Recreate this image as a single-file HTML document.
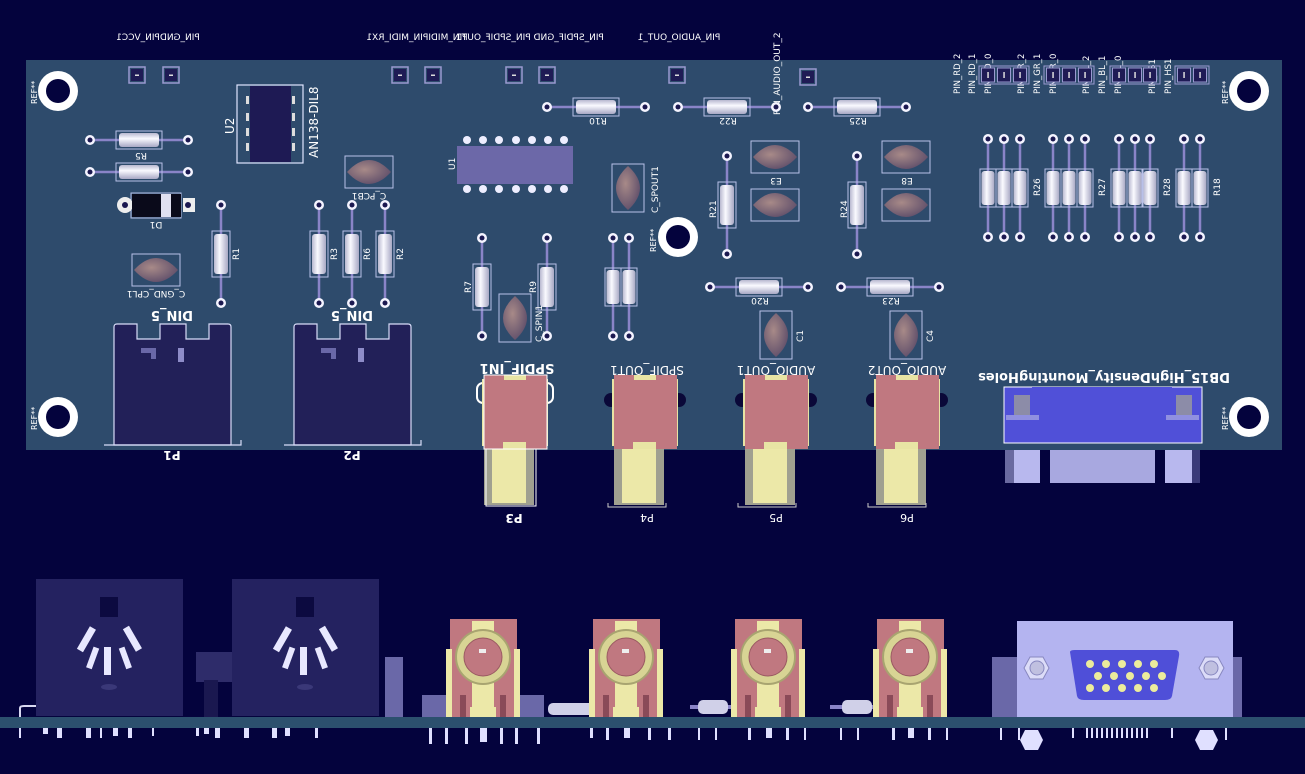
<!DOCTYPE html>
<html><head><meta charset="utf-8"><style>
html,body{margin:0;padding:0;background:#04033d;}
svg{display:block}
text{font-family:"DejaVu Sans","Liberation Sans",sans-serif;fill:#fff;}
</style></head><body>
<svg width="1305" height="774" viewBox="0 0 1305 774" xmlns="http://www.w3.org/2000/svg">
<defs>
 <linearGradient id="rb" x1="0" y1="0" x2="0" y2="1"><stop offset="0" stop-color="#b8b8d0"/><stop offset=".4" stop-color="#fafaff"/><stop offset="1" stop-color="#a8a8c4"/></linearGradient>
 <linearGradient id="rbv" x1="0" y1="0" x2="1" y2="0"><stop offset="0" stop-color="#b8b8d0"/><stop offset=".4" stop-color="#fafaff"/><stop offset="1" stop-color="#a8a8c4"/></linearGradient>
 <radialGradient id="cap" cx=".4" cy=".4" r=".7"><stop offset="0" stop-color="#a88a88"/><stop offset="1" stop-color="#5a4a68"/></radialGradient>
 <g id="pad"><circle r="5" fill="#f4f4ff"/><circle r="2.5" fill="#1b1850"/></g>
 <g id="rh"><line x1="-49" y1="0" x2="49" y2="0" stroke="#8a84c8" stroke-width="2.5"/><rect x="-23" y="-9" width="46" height="18" fill="none" stroke="#b8c0e8" stroke-width="1"/><rect x="-20" y="-7" width="40" height="14" rx="3" fill="url(#rb)"/><use href="#pad" x="-49"/><use href="#pad" x="49"/></g>
 <g id="rv"><line y1="-49" x1="0" y2="49" x2="0" stroke="#8a84c8" stroke-width="2.5"/><rect y="-23" x="-9" height="46" width="18" fill="none" stroke="#b8c0e8" stroke-width="1"/><rect y="-20" x="-7" height="40" width="14" rx="3" fill="url(#rbv)"/><use href="#pad" y="-49"/><use href="#pad" y="49"/></g>
 <g id="rvs"><line y1="-49" x1="0" y2="49" x2="0" stroke="#8a84c8" stroke-width="2.5"/><rect y="-19" x="-8" height="38" width="16" fill="none" stroke="#b8c0e8" stroke-width="1"/><rect y="-17" x="-6.5" height="34" width="13" rx="3" fill="url(#rbv)"/><use href="#pad" y="-49"/><use href="#pad" y="49"/></g>
 <g id="ch"><rect x="-24" y="-16" width="48" height="32" fill="none" stroke="#b8c0e8"/><path d="M-22 0 Q0 -24 22 0 Q0 24 -22 0Z" fill="url(#cap)"/></g>
 <g id="cv"><rect y="-24" x="-16" height="48" width="32" fill="none" stroke="#b8c0e8"/><path d="M0 -22 Q-24 0 0 22 Q24 0 0 -22Z" fill="url(#cap)"/></g>
 <g id="hole"><circle r="20" fill="#fff"/><circle r="12" fill="#04033d"/></g>
 <g id="hdr"><rect x="-8" y="-8" width="16" height="16" fill="none" stroke="#9a9ad0" stroke-width="1.5"/><rect x="-6" y="-6" width="12" height="12" fill="#1f1b55"/><rect x="-2" y="-0.5" width="4" height="1.5" fill="#ddd"/></g>
 <g id="hdr2"><rect x="-6.5" y="-7" width="13" height="14" fill="#1f1b55" stroke="#9a9ad0"/><rect x="-0.7" y="-3" width="1.5" height="6" fill="#ddd"/></g>
 <g id="din"><path d="M0 121 V3 Q0 0 3 0 H23 V15 H46 V0 H72 V15 H95 V0 H114 Q117 0 117 3 V121 Z" fill="#222058" stroke="#d8dcf8" stroke-width="1.2"/><path d="M-10 121 H127 V116" fill="none" stroke="#d8dcf8" stroke-width="1.2"/><path d="M27 24 H42 V35 H37 V29 H27Z" fill="#6a68a8"/><rect x="64" y="24" width="6" height="14" fill="#8e8cc8"/></g>
 <g id="jack"><rect x="0" y="73" width="50" height="57" fill="#a0a090"/><rect x="8" y="73" width="34" height="55" fill="#ece8a8"/><rect x="-2" y="4" width="66" height="67" fill="#e8e4a4"/><rect x="0" y="0" width="63" height="74" fill="#c07880"/><rect x="20" y="0" width="22" height="5" fill="#e8e4a4"/><path d="M19 74 V67 H42 V74Z" fill="#e8e4a4"/></g>
 <g id="bjack"><rect x="0" y="0" width="67" height="98" fill="#c07880"/><rect x="22" y="2" width="22" height="96" fill="#ece8a8"/><rect x="-4" y="30" width="6" height="68" fill="#ece8a8"/><rect x="64" y="30" width="6" height="68" fill="#ece8a8"/><circle cx="33" cy="38" r="27" fill="#d8d494" stroke="#a8a470" stroke-width="2"/><circle cx="33" cy="38" r="19" fill="#c07880" stroke="#9a5a62"/><rect x="29" y="30" width="7" height="4" fill="#eee"/><rect x="10" y="76" width="6" height="22" fill="#8a4a58"/><rect x="50" y="76" width="6" height="22" fill="#8a4a58"/><rect x="20" y="88" width="26" height="10" fill="#ece8a8"/></g>
 <g id="bdin"><rect x="0" y="0" width="147" height="137" fill="#242260"/><rect x="64" y="18" width="18" height="20" fill="#0c0a40"/><g fill="#e8e8ff"><rect x="68" y="68" width="7" height="28"/><rect x="-3" y="-13" width="7" height="26" transform="translate(50,60) rotate(30)"/><rect x="-3" y="-13" width="7" height="26" transform="translate(96,60) rotate(-30)"/><rect x="-3" y="-10" width="6" height="22" transform="translate(57,78) rotate(20)"/><rect x="-3" y="-10" width="6" height="22" transform="translate(89,78) rotate(-20)"/></g><ellipse cx="73" cy="108" rx="8" ry="3" fill="#3a3878"/></g>
</defs>

<!-- board -->
<rect x="26" y="60" width="1256" height="390" fill="#2e4b6c"/>

<!-- top labels -->
<text font-size="9" text-anchor="middle" transform="translate(158,40) scale(-1,1)">PIN_GNDPIN_VCC1</text>
<text font-size="9" text-anchor="middle" transform="translate(417,40) scale(-1,1)">PIN_MIDIPIN_MIDI_RX1</text>
<text font-size="9" text-anchor="middle" transform="translate(530,40) scale(-1,1)">PIN_SPDIF_GND PIN_SPDIF_OUT1</text>
<text font-size="9" text-anchor="middle" transform="translate(679,40) scale(-1,1)">PIN_AUDIO_OUT_1</text>
<text font-size="9" transform="translate(780,115) rotate(-90)">PIN_AUDIO_OUT_2</text>
<g font-size="8.5">
<text transform="translate(960,94) rotate(-90)">PIN_RD_2</text>
<text transform="translate(975,94) rotate(-90)">PIN_RD_1</text>
<text transform="translate(991,94) rotate(-90)">PIN_RD_0</text>
<text transform="translate(1024,94) rotate(-90)">PIN_GR_2</text>
<text transform="translate(1040,94) rotate(-90)">PIN_GR_1</text>
<text transform="translate(1056,94) rotate(-90)">PIN_GR_0</text>
<text transform="translate(1089,94) rotate(-90)">PIN_BL_2</text>
<text transform="translate(1105,94) rotate(-90)">PIN_BL_1</text>
<text transform="translate(1121,94) rotate(-90)">PIN_BL_0</text>
<text transform="translate(1155,94) rotate(-90)">PIN_VS1</text>
<text transform="translate(1171,94) rotate(-90)">PIN_HS1</text>
</g>
<g font-size="8">
<text transform="translate(37,104) rotate(-90)">REF**</text>
<text transform="translate(37,430) rotate(-90)">REF**</text>
<text transform="translate(1228,104) rotate(-90)">REF**</text>
<text transform="translate(1228,430) rotate(-90)">REF**</text>
<text transform="translate(656,252) rotate(-90)">REF**</text>
</g>

<!-- holes -->
<use href="#hole" x="58" y="91"/><use href="#hole" x="1249" y="91"/><use href="#hole" x="58" y="417"/><use href="#hole" x="1249" y="417"/><use href="#hole" x="678" y="237"/>

<!-- headers -->
<use href="#hdr" x="137" y="75"/><use href="#hdr" x="171" y="75"/><use href="#hdr" x="400" y="75"/><use href="#hdr" x="433" y="75"/><use href="#hdr" x="514" y="75"/><use href="#hdr" x="547" y="75"/><use href="#hdr" x="677" y="75"/><use href="#hdr" x="808" y="77"/>
<g><rect x="979" y="66" width="50" height="18" fill="none" stroke="#9a9ad0"/><rect x="1044" y="66" width="50" height="18" fill="none" stroke="#9a9ad0"/><rect x="1110" y="66" width="50" height="18" fill="none" stroke="#9a9ad0"/><rect x="1175" y="66" width="34" height="18" fill="none" stroke="#9a9ad0"/></g>
<use href="#hdr2" x="988" y="75"/><use href="#hdr2" x="1004" y="75"/><use href="#hdr2" x="1020" y="75"/>
<use href="#hdr2" x="1053" y="75"/><use href="#hdr2" x="1069" y="75"/><use href="#hdr2" x="1085" y="75"/>
<use href="#hdr2" x="1119" y="75"/><use href="#hdr2" x="1135" y="75"/><use href="#hdr2" x="1150" y="75"/>
<use href="#hdr2" x="1184" y="75"/><use href="#hdr2" x="1200" y="75"/>

<!-- U2 -->
<rect x="237" y="85" width="66" height="78" fill="none" stroke="#e0e4ff" stroke-width="1.2"/>
<rect x="250" y="86" width="41" height="76" fill="#1e1a54"/>
<g fill="#ddd"><rect x="246" y="96" width="3" height="8"/><rect x="246" y="113" width="3" height="8"/><rect x="246" y="128" width="3" height="8"/><rect x="246" y="143" width="3" height="8"/><rect x="292" y="96" width="3" height="8"/><rect x="292" y="113" width="3" height="8"/><rect x="292" y="128" width="3" height="8"/><rect x="292" y="143" width="3" height="8"/></g>
<text font-size="12" transform="translate(234,134) rotate(-90)">U2</text>
<text font-size="12" transform="translate(318,158) rotate(-90)">AN138-DIL8</text>

<!-- resistors -->
<use href="#rh" x="139" y="140"/><use href="#rh" x="139" y="172"/>
<text font-size="9" text-anchor="middle" transform="translate(141,153) scale(-1,-1)">R5</text>
<use href="#rh" x="596" y="107"/><use href="#rh" x="727" y="107"/><use href="#rh" x="857" y="107"/>
<use href="#rh" x="759" y="287"/><use href="#rh" x="890" y="287"/>
<g font-size="9" text-anchor="middle">
<text transform="translate(598,118) scale(-1,-1)">R10</text>
<text transform="translate(728,118) scale(-1,-1)">R22</text>
<text transform="translate(858,118) scale(-1,-1)">R25</text>
<text transform="translate(760,298) scale(-1,-1)">R20</text>
<text transform="translate(891,298) scale(-1,-1)">R23</text>
</g>
<use href="#rv" x="221" y="254"/><use href="#rv" x="319" y="254"/><use href="#rv" x="352" y="254"/><use href="#rv" x="385" y="254"/>
<use href="#rv" x="727" y="205"/><use href="#rv" x="857" y="205"/>
<use href="#rv" x="482" y="287"/><use href="#rv" x="547" y="287"/>
<use href="#rvs" x="613" y="287"/><use href="#rvs" x="629" y="287"/>
<g font-size="9">
<text transform="translate(239,260) rotate(-90)">R1</text><text transform="translate(337,260) rotate(-90)">R3</text><text transform="translate(370,260) rotate(-90)">R6</text><text transform="translate(403,260) rotate(-90)">R2</text>
<text transform="translate(716,218) rotate(-90)">R21</text><text transform="translate(847,218) rotate(-90)">R24</text>
<text transform="translate(471,293) rotate(-90)">R7</text><text transform="translate(536,293) rotate(-90)">R9</text>
<text transform="translate(1040,196) rotate(-90)">R26</text><text transform="translate(1105,196) rotate(-90)">R27</text><text transform="translate(1170,196) rotate(-90)">R28</text><text transform="translate(1220,196) rotate(-90)">R18</text>
</g>
<use href="#rvs" x="988" y="188"/><use href="#rvs" x="1004" y="188"/><use href="#rvs" x="1020" y="188"/>
<use href="#rvs" x="1053" y="188"/><use href="#rvs" x="1069" y="188"/><use href="#rvs" x="1085" y="188"/>
<use href="#rvs" x="1119" y="188"/><use href="#rvs" x="1135" y="188"/><use href="#rvs" x="1150" y="188"/>
<use href="#rvs" x="1184" y="188"/><use href="#rvs" x="1200" y="188"/>

<!-- D1 -->
<rect x="120" y="185" width="77" height="25" fill="none" stroke="#b8c0e8" opacity="0"/>
<rect x="131" y="193" width="50" height="25" fill="none" stroke="#b8c0e8"/>
<circle cx="125" cy="205" r="8" fill="#eee"/><circle cx="125" cy="205" r="3" fill="#1b1850"/>
<rect x="183" y="198" width="12" height="14" fill="#eee"/><circle cx="188" cy="205" r="3" fill="#1b1850"/>
<rect x="132" y="194" width="49" height="23" fill="#0a0a1a"/><rect x="161" y="194" width="10" height="23" fill="#e0e0f0"/>
<text font-size="9" text-anchor="middle" transform="translate(156,222) scale(-1,-1)">D1</text>

<!-- caps -->
<use href="#ch" x="369" y="172"/><text font-size="9" text-anchor="middle" transform="translate(369,193) scale(-1,-1)">C_PCB1</text>
<use href="#ch" x="156" y="270"/><text font-size="9" text-anchor="middle" transform="translate(156,291) scale(-1,-1)">C_GND_CPL1</text>
<use href="#ch" x="775" y="157"/><use href="#ch" x="775" y="205"/><text font-size="9" text-anchor="middle" transform="translate(776,178) scale(-1,-1)">E3</text>
<use href="#ch" x="906" y="157"/><use href="#ch" x="906" y="205"/><text font-size="9" text-anchor="middle" transform="translate(907,178) scale(-1,-1)">E8</text>
<use href="#cv" x="628" y="188"/><text font-size="9" transform="translate(658,213) rotate(-90)">C_SPOUT1</text>
<use href="#cv" x="515" y="318"/><text font-size="9" transform="translate(542,342) rotate(-90)">C_SPIN1</text>
<use href="#cv" x="776" y="335"/><text font-size="9" transform="translate(803,342) rotate(-90)">C1</text>
<use href="#cv" x="906" y="335"/><text font-size="9" transform="translate(933,342) rotate(-90)">C4</text>

<!-- U1 -->
<g fill="#eeeeff">
<circle cx="467" cy="140" r="4"/><circle cx="483" cy="140" r="4"/><circle cx="499" cy="140" r="4"/><circle cx="516" cy="140" r="4"/><circle cx="532" cy="140" r="4"/><circle cx="548" cy="140" r="4"/><circle cx="564" cy="140" r="4"/>
<circle cx="467" cy="189" r="4"/><circle cx="483" cy="189" r="4"/><circle cx="499" cy="189" r="4"/><circle cx="516" cy="189" r="4"/><circle cx="532" cy="189" r="4"/><circle cx="548" cy="189" r="4"/><circle cx="564" cy="189" r="4"/>
</g>
<rect x="457" y="146" width="116" height="38" fill="#6c68a8"/>
<text font-size="9" transform="translate(455,170) rotate(-90)">U1</text>

<!-- DIN on board -->
<use href="#din" x="114" y="324"/><use href="#din" x="294" y="324"/>
<text font-size="13" font-weight="bold" text-anchor="middle" transform="translate(172,311) scale(-1,-1)">DIN_5</text>
<text font-size="13" font-weight="bold" text-anchor="middle" transform="translate(352,311) scale(-1,-1)">DIN_5</text>
<text font-size="12" font-weight="bold" text-anchor="middle" transform="translate(172,451) scale(-1,-1)">P1</text>
<text font-size="12" font-weight="bold" text-anchor="middle" transform="translate(352,451) scale(-1,-1)">P2</text>

<!-- Jacks on board -->
<circle cx="611" cy="400" r="7" fill="#0a0838"/><circle cx="679" cy="400" r="7" fill="#0a0838"/>
<circle cx="742" cy="400" r="7" fill="#0a0838"/><circle cx="810" cy="400" r="7" fill="#0a0838"/>
<circle cx="873" cy="400" r="7" fill="#0a0838"/><circle cx="941" cy="400" r="7" fill="#0a0838"/>
<rect x="477" y="383" width="76" height="20" rx="6" fill="none" stroke="#fff" stroke-width="2"/>
<use href="#jack" x="484" y="375"/><use href="#jack" x="614" y="375"/><use href="#jack" x="745" y="375"/><use href="#jack" x="876" y="375"/>
<rect x="484" y="375" width="63" height="74" fill="none" stroke="#fff" stroke-width="1"/>
<path d="M486 449 V506 H536 V449" fill="none" stroke="#fff" stroke-width="1"/>
<path d="M608 503 V507 H666 V503 M738 503 V507 H796 V503 M868 503 V507 H926 V503" fill="none" stroke="#ccc" stroke-width="1"/>
<text font-size="13" font-weight="bold" text-anchor="middle" transform="translate(517,364) scale(-1,-1)">SPDIF_IN1</text>
<text font-size="12" text-anchor="middle" transform="translate(647,366) scale(-1,-1)">SPDIF_OUT1</text>
<text font-size="12" text-anchor="middle" transform="translate(776,366) scale(-1,-1)">AUDIO_OUT1</text>
<text font-size="12" text-anchor="middle" transform="translate(907,366) scale(-1,-1)">AUDIO_OUT2</text>
<text font-size="12" font-weight="bold" text-anchor="middle" transform="translate(514,514) scale(-1,-1)">P3</text>
<text font-size="11" text-anchor="middle" transform="translate(647,514) scale(-1,-1)">P4</text>
<text font-size="11" text-anchor="middle" transform="translate(776,514) scale(-1,-1)">P5</text>
<text font-size="11" text-anchor="middle" transform="translate(907,514) scale(-1,-1)">P6</text>

<!-- DB15 -->
<text font-size="13" font-weight="bold" text-anchor="middle" transform="translate(1104,373) scale(-1,-1)">DB15_HighDensity_MountingHoles</text>
<rect x="1005" y="450" width="35" height="33" fill="#b8b8ee"/><rect x="1005" y="450" width="9" height="33" fill="#6a6aa0"/>
<rect x="1050" y="450" width="105" height="33" fill="#a8a8e0"/>
<rect x="1165" y="450" width="35" height="33" fill="#b8b8ee"/><rect x="1192" y="450" width="8" height="33" fill="#3a3a78"/>
<rect x="1004" y="387" width="198" height="56" fill="#5050d8" stroke="#fff"/>
<rect x="1032" y="387" width="140" height="16" fill="#5050d8"/>
<rect x="1006" y="415" width="33" height="5" fill="#9090e0"/><rect x="1166" y="415" width="33" height="5" fill="#9090e0"/>
<rect x="1014" y="395" width="16" height="20" fill="#8c8ca8"/><rect x="1176" y="395" width="16" height="20" fill="#8c8ca8"/>

<!-- ===== Bottom side view ===== -->
<rect x="196" y="652" width="40" height="30" fill="#2e2c6a"/><rect x="204" y="680" width="14" height="40" fill="#1a1850"/>
<use href="#bdin" x="36" y="579"/><use href="#bdin" x="232" y="579"/>
<rect x="385" y="657" width="18" height="60" fill="#6a68a8"/>
<rect x="422" y="695" width="122" height="22" fill="#6a68a8"/>
<rect x="548" y="703" width="50" height="12" rx="5" fill="#d0d0e8"/>
<rect x="690" y="705" width="60" height="4" fill="#8a84c8"/><rect x="830" y="705" width="60" height="4" fill="#8a84c8"/>
<rect x="698" y="700" width="30" height="14" rx="5" fill="#d0d0e8"/><rect x="842" y="700" width="30" height="14" rx="5" fill="#d0d0e8"/>
<use href="#bjack" x="450" y="619"/><use href="#bjack" x="593" y="619"/><use href="#bjack" x="735" y="619"/><use href="#bjack" x="877" y="619"/>
<rect x="992" y="657" width="25" height="60" fill="#6a68a8"/><rect x="1232" y="657" width="10" height="60" fill="#6a68a8"/>
<rect x="1017" y="621" width="216" height="96" fill="#b4b4f0"/>
<path d="M1070 652 Q1070 650 1075 650 H1175 Q1180 650 1179 656 L1172 696 Q1171 700 1165 700 H1084 Q1078 700 1077 696 Z" fill="#4f4fd8"/>
<g fill="#ecec9c"><circle cx="1090" cy="664" r="4"/><circle cx="1106" cy="664" r="4"/><circle cx="1122" cy="664" r="4"/><circle cx="1138" cy="664" r="4"/><circle cx="1154" cy="664" r="4"/>
<circle cx="1098" cy="676" r="4"/><circle cx="1114" cy="676" r="4"/><circle cx="1130" cy="676" r="4"/><circle cx="1146" cy="676" r="4"/><circle cx="1162" cy="676" r="4"/>
<circle cx="1090" cy="688" r="4"/><circle cx="1106" cy="688" r="4"/><circle cx="1122" cy="688" r="4"/><circle cx="1138" cy="688" r="4"/><circle cx="1154" cy="688" r="4"/></g>
<polygon points="1024,668 1030,657 1043,657 1049,668 1043,679 1030,679" fill="#dcdcf8" stroke="#8888c0"/><circle cx="1037" cy="668" r="7" fill="#c0c0e0" stroke="#8888c0"/>
<polygon points="1199,668 1205,657 1218,657 1224,668 1218,679 1205,679" fill="#dcdcf8" stroke="#8888c0"/><circle cx="1211" cy="668" r="7" fill="#c0c0e0" stroke="#8888c0"/>
<path d="M20 717 V708 Q20 706 24 706 H36" fill="none" stroke="#d8d8f0" stroke-width="2"/>
<!-- board edge strip -->
<rect x="0" y="717" width="1305" height="11" fill="#2c506e"/>
<!-- pins below -->
<g fill="#e0e0ff">
<rect x="19" y="728" width="2" height="10"/><rect x="43" y="728" width="5" height="6"/><rect x="57" y="728" width="5" height="10"/><rect x="86" y="728" width="5" height="10"/><rect x="100" y="728" width="2" height="10"/><rect x="113" y="728" width="5" height="8"/><rect x="128" y="728" width="4" height="10"/><rect x="152" y="728" width="2" height="8"/>
<rect x="196" y="728" width="3" height="8"/><rect x="204" y="728" width="5" height="6"/><rect x="215" y="728" width="5" height="10"/><rect x="244" y="728" width="5" height="10"/><rect x="272" y="728" width="5" height="10"/><rect x="285" y="728" width="5" height="8"/><rect x="315" y="728" width="3" height="10"/>
<rect x="429" y="728" width="3" height="16"/><rect x="445" y="728" width="3" height="16"/><rect x="465" y="728" width="3" height="16"/><rect x="480" y="728" width="7" height="14"/><rect x="500" y="728" width="3" height="16"/><rect x="515" y="728" width="3" height="16"/><rect x="537" y="728" width="3" height="16"/>
<rect x="590" y="728" width="3" height="10"/><rect x="606" y="728" width="3" height="12"/><rect x="624" y="728" width="6" height="10"/><rect x="648" y="728" width="3" height="12"/><rect x="668" y="728" width="3" height="12"/>
<rect x="698" y="728" width="2" height="12"/><rect x="715" y="728" width="2" height="12"/><rect x="748" y="728" width="3" height="12"/><rect x="766" y="728" width="6" height="10"/><rect x="786" y="728" width="3" height="12"/><rect x="804" y="728" width="2" height="12"/>
<rect x="840" y="728" width="2" height="12"/><rect x="857" y="728" width="2" height="12"/><rect x="892" y="728" width="3" height="12"/><rect x="908" y="728" width="6" height="10"/><rect x="928" y="728" width="3" height="12"/><rect x="946" y="728" width="2" height="12"/>
<rect x="1000" y="728" width="2" height="12"/><rect x="1018" y="728" width="2" height="12"/>
<polygon points="1025,730 1038,730 1043,740 1038,750 1025,750 1020,740"/>
<polygon points="1200,730 1213,730 1218,740 1213,750 1200,750 1195,740"/>
<rect x="1086" y="728" width="2" height="10"/><rect x="1091" y="728" width="2" height="10"/><rect x="1096" y="728" width="2" height="10"/><rect x="1101" y="728" width="2" height="10"/><rect x="1106" y="728" width="2" height="10"/><rect x="1111" y="728" width="2" height="10"/><rect x="1116" y="728" width="2" height="10"/><rect x="1121" y="728" width="2" height="10"/><rect x="1126" y="728" width="2" height="10"/><rect x="1131" y="728" width="2" height="10"/><rect x="1136" y="728" width="2" height="10"/><rect x="1141" y="728" width="2" height="10"/><rect x="1146" y="728" width="2" height="10"/><rect x="1072" y="728" width="2" height="10"/><rect x="1171" y="728" width="2" height="10"/><rect x="1225" y="728" width="2" height="12"/>
</g>
</svg>
</body></html>
